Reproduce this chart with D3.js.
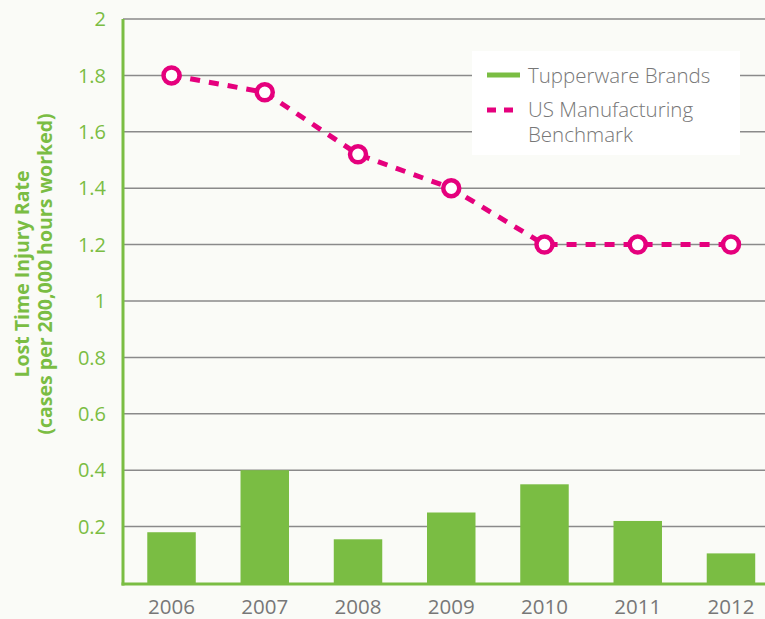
<!DOCTYPE html>
<html><head><meta charset="utf-8">
<script src="https://cdn.jsdelivr.net/npm/d3@7"></script>
<style>
html,body{margin:0;padding:0;background:#fafbf7;}
svg{display:block;}
text{font-family:"Open Sans","Lato",sans-serif;}
</style></head>
<body>
<svg id="chart" width="765" height="619"></svg>
<script>
const years = ["2006","2007","2008","2009","2010","2011","2012"];
const tupperware = [0.18, 0.40, 0.155, 0.25, 0.35, 0.22, 0.105];
const benchmark = [1.80, 1.74, 1.52, 1.40, 1.20, 1.20, 1.20];
const yTicks = [0.2, 0.4, 0.6, 0.8, 1, 1.2, 1.4, 1.6, 1.8, 2];
const legendLabels = ["Tupperware Brands", ["US Manufacturing", "Benchmark"]];
const yTitle = ["Lost Time Injury Rate", "(cases per 200,000 hours worked)"];

const green = "#7abd43", magenta = "#e5007d", grid = "#8a8a8a", textGray = "#777777";
const svg = d3.select("#chart");
const W = 765, H = 619;
const axisX = 123, y0 = 583, y2 = 19;

svg.append("rect").attr("width", W).attr("height", H).attr("fill", "#fafbf7");

const y = d3.scaleLinear().domain([0, 2]).range([y0, y2]);
const x = d3.scaleBand().domain(years).range([124.9, 777.6]).paddingInner(0.48).paddingOuter(0.24);

// gridlines
svg.append("g").selectAll("line").data(yTicks).join("line")
  .attr("x1", axisX).attr("x2", W)
  .attr("y1", d => y(d)).attr("y2", d => y(d))
  .attr("stroke", grid).attr("stroke-width", 1.5);

// tick labels
svg.append("g").selectAll("text").data(yTicks).join("text")
  .attr("x", 106).attr("y", d => y(d)).attr("dy", "0.36em")
  .attr("text-anchor", "end").attr("fill", green)
  .attr("font-size", 20).attr("font-weight", 400)
  .text(d => d3.format("~g")(d));

// bars
svg.append("g").selectAll("rect").data(tupperware).join("rect")
  .attr("x", (d, i) => x(years[i])).attr("width", x.bandwidth())
  .attr("y", d => y(d)).attr("height", d => y(0) - y(d))
  .attr("fill", green);

// axes lines
svg.append("line").attr("x1", axisX).attr("x2", axisX).attr("y1", y2).attr("y2", y0 + 2.5)
  .attr("stroke", green).attr("stroke-width", 3);
svg.append("line").attr("x1", axisX - 1.5).attr("x2", W).attr("y1", y0 + 1).attr("y2", y0 + 1)
  .attr("stroke", green).attr("stroke-width", 3);

// year labels
svg.append("g").selectAll("text").data(years).join("text")
  .attr("x", d => x(d) + x.bandwidth() / 2).attr("y", 614)
  .attr("text-anchor", "middle").attr("fill", textGray).attr("font-size", 20.5).attr("font-weight", 400)
  .text(d => d);

// legend box
const lg = svg.append("g");
lg.append("rect").attr("x", 472).attr("y", 51).attr("width", 268).attr("height", 104).attr("fill", "#ffffff");

// benchmark line
const cx = (d, i) => x(years[i]) + x.bandwidth() / 2;
const line = d3.line().x(cx).y(d => y(d));
svg.append("path").datum(benchmark).attr("d", line)
  .attr("fill", "none").attr("stroke", magenta).attr("stroke-width", 5)
  .attr("stroke-dasharray", "10,9");
svg.append("g").selectAll("circle").data(benchmark).join("circle")
  .attr("cx", cx).attr("cy", d => y(d)).attr("r", 8)
  .attr("fill", "#ffffff").attr("stroke", magenta).attr("stroke-width", 4.5);

// legend contents
lg.append("line").attr("x1", 487).attr("x2", 520).attr("y1", 75).attr("y2", 75)
  .attr("stroke", green).attr("stroke-width", 5);
lg.append("text").attr("x", 528).attr("y", 82.5)
  .attr("fill", textGray).attr("font-size", 20.5).attr("font-weight", 300).text(legendLabels[0]);
lg.append("line").attr("x1", 487).attr("x2", 518).attr("y1", 110).attr("y2", 110)
  .attr("stroke", magenta).attr("stroke-width", 5).attr("stroke-dasharray", "9,8");
const lt = lg.append("text").attr("fill", textGray).attr("font-size", 20.5).attr("font-weight", 300);
lt.append("tspan").attr("x", 528).attr("y", 117).text(legendLabels[1][0]);
lt.append("tspan").attr("x", 528).attr("y", 142).text(legendLabels[1][1]);

// y title
const t = svg.append("text").attr("transform", "translate(0,274) rotate(-90)")
  .attr("text-anchor", "middle").attr("fill", green).attr("font-weight", "bold").attr("font-size", 19.5);
t.append("tspan").attr("x", 0).attr("y", 29).text(yTitle[0]);
t.append("tspan").attr("x", 0).attr("y", 52).text(yTitle[1]);
</script>
</body></html>
